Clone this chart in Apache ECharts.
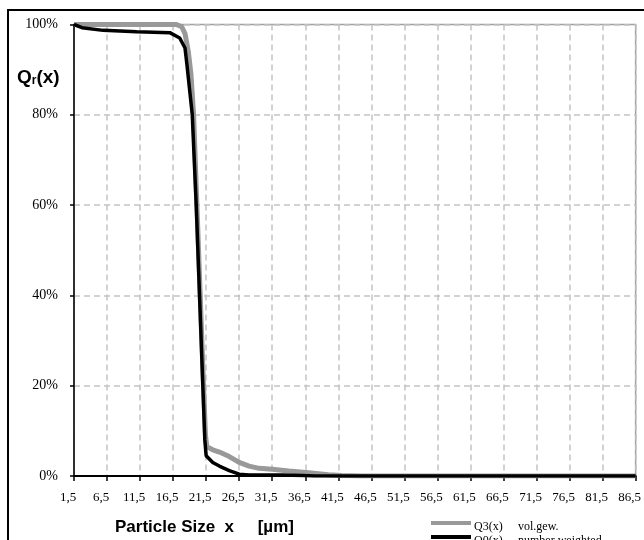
<!DOCTYPE html>
<html>
<head>
<meta charset="utf-8">
<script src="https://cdn.jsdelivr.net/npm/echarts@6/dist/echarts.min.js"></script>
<style>
html,body{margin:0;padding:0;background:#fff;}
#chart{width:644px;height:540px;}
</style>
</head>
<body>
<div id="chart"></div>
<script>
// Particle size (µm) and cumulative distribution (%)
var q3Size  = [1.5, 17.0, 17.8, 18.3, 18.8, 19.2, 19.6, 20.1, 20.6, 21.1, 21.4, 21.6, 22.5, 23.5, 25.0, 26.5, 28.0, 29.5, 31.5, 34.0, 37.0, 40.0, 42.0, 45.0, 86.5];
var q3Value = [100, 100, 99.5, 98, 94, 89, 80, 60, 40, 20, 9, 6.5, 5.8, 5.3, 4.3, 3.0, 2.2, 1.7, 1.5, 1.1, 0.7, 0.3, 0.1, 0, 0];
var q0Size  = [1.5, 2.7, 5.9, 11.0, 16.0, 17.5, 18.3, 18.6, 19.4, 20.0, 20.5, 21.0, 21.3, 21.5, 22.5, 23.5, 25.0, 26.5, 28.0, 33.0, 36.0, 38.0, 86.5];
var q0Value = [100, 99.3, 98.7, 98.4, 98.2, 97, 94.8, 91, 80, 60, 40, 20, 8, 4.5, 3.0, 2.2, 1.2, 0.4, 0.2, 0.2, 0.1, 0, 0];
var xTickLabels = ['1,5','6,5','11,5','16,5','21,5','26,5','31,5','36,5','41,5','46,5','51,5','56,5','61,5','66,5','71,5','76,5','81,5','86,5'];
var yTickLabels = ['0%','20%','40%','60%','80%','100%'];
var xStart = 1.5;   // first tick of the size axis
var xStep = 5;

function pairs(xs, ys) {
  return xs.map(function (x, i) { return [x - xStart, ys[i]]; });
}

var serif = '"Liberation Serif", "DejaVu Serif", serif';
var sans = '"Liberation Sans", Arial, sans-serif';

var chart = echarts.init(document.getElementById('chart'), null, {renderer: 'canvas'});
chart.setOption({
  animation: false,
  backgroundColor: '#fff',
  grid: {left: 74, right: 6, top: 24.5, bottom: 64, show: true, borderColor: '#a0a0a0', borderWidth: 1.5, backgroundColor: 'transparent'},
  xAxis: {
    type: 'value', min: 0, max: (xTickLabels.length - 1) * xStep, interval: xStep,
    axisLine: {show: true, onZero: false, lineStyle: {color: '#000', width: 2}},
    axisTick: {show: true, length: 5, lineStyle: {color: '#000', width: 1.5}},
    axisLabel: {
      color: '#000', fontFamily: serif, fontSize: 13, margin: 15, padding: [0, 12, 0, 0],
      formatter: function (v) { return xTickLabels[Math.round(v / xStep)]; }
    },
    splitLine: {show: true, lineStyle: {color: '#c4c4c4', width: 1.5, type: [6, 4]}}
  },
  yAxis: {
    type: 'value', min: 0, max: 100, interval: 20,
    axisLine: {show: true, lineStyle: {color: '#000', width: 1.5}},
    axisTick: {show: true, length: 4, lineStyle: {color: '#000', width: 1.5}},
    axisLabel: {
      color: '#000', fontFamily: serif, fontSize: 14, margin: 16,
      formatter: function (v) { return yTickLabels[Math.round(v / 20)]; }
    },
    splitLine: {show: true, lineStyle: {color: '#c4c4c4', width: 1.5, type: [6, 4]}}
  },
  series: [
    {name: 'Q3(x)', type: 'line', data: pairs(q3Size, q3Value), showSymbol: false, symbol: 'none',
     lineStyle: {color: '#999999', width: 5}, z: 2},
    {name: 'Q0(x)', type: 'line', data: pairs(q0Size, q0Value), showSymbol: false, symbol: 'none',
     lineStyle: {color: '#000000', width: 3.5}, z: 3}
  ],
  graphic: [
    {type: 'rect', shape: {x: 8, y: 10, width: 800, height: 800}, style: {fill: 'none', stroke: '#000', lineWidth: 2}, silent: true},
    {type: 'text', left: 17, top: 68, style: {
      text: '{a|Q}{b|r}{a|(x)}',
      rich: {
        a: {fontFamily: sans, fontWeight: 'bold', fontSize: 19, fill: '#000', verticalAlign: 'bottom', lineHeight: 22},
        b: {fontFamily: sans, fontWeight: 'bold', fontSize: 12, fill: '#000', verticalAlign: 'bottom', lineHeight: 18}
      }
    }},
    {type: 'text', x: 115, y: 527, style: {text: 'Particle Size  x     [µm]', fontFamily: sans, fontWeight: 'bold', fontSize: 17, fill: '#000', verticalAlign: 'middle'}},
    {type: 'line', shape: {x1: 431, y1: 523, x2: 471, y2: 523}, style: {stroke: '#999999', lineWidth: 4}},
    {type: 'text', x: 474, y: 527, style: {text: 'Q3(x)', fontFamily: serif, fontSize: 12, fill: '#000', verticalAlign: 'middle'}},
    {type: 'text', x: 518, y: 527, style: {text: 'vol.gew.', fontFamily: serif, fontSize: 12, fill: '#000', verticalAlign: 'middle'}},
    {type: 'line', shape: {x1: 431, y1: 537, x2: 471, y2: 537}, style: {stroke: '#000', lineWidth: 4}},
    {type: 'text', x: 474, y: 541, style: {text: 'Q0(x)', fontFamily: serif, fontSize: 12, fill: '#000', verticalAlign: 'middle'}},
    {type: 'text', x: 518, y: 541, style: {text: 'number weighted', fontFamily: serif, fontSize: 12, fill: '#000', verticalAlign: 'middle'}}
  ]
});
</script>
</body>
</html>
